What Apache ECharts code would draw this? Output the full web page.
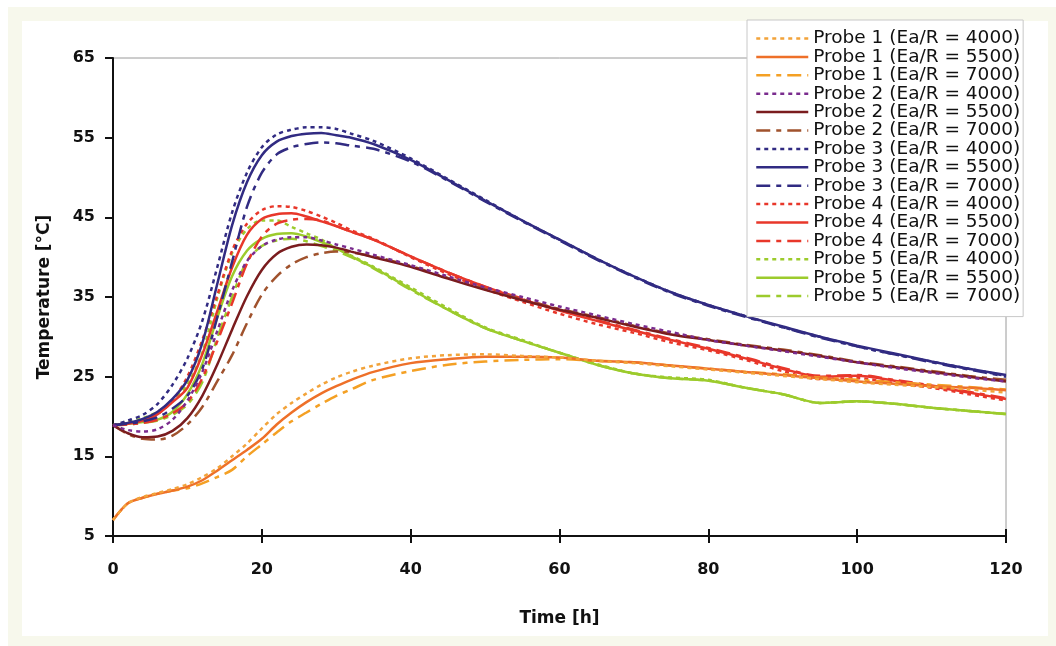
<!DOCTYPE html>
<html>
<head>
<meta charset="utf-8">
<script src="https://cdn.jsdelivr.net/npm/echarts@6/dist/echarts.min.js"></script>
<style>
html,body{margin:0;padding:0;background:#fff;}
#chart{width:1056px;height:646px;}
</style>
</head>
<body>
<div id="chart"></div>
<script>
// Time axis (hours)
var hours = [0,2,4,6,8,10,12,14,16,18,20,22,24,26,28,30,32,35,40,45,50,55,60,65,70,75,80,85,90,95,100,105,110,115,120];
var xTicks = [0,20,40,60,80,100,120];
var yTicks = [5,15,25,35,45,55,65];

// Probe 1
var p1_4000 = [7.0,9.1,9.9,10.4,10.9,11.5,12.4,13.5,15.0,16.6,18.5,20.3,21.7,22.9,24.0,24.9,25.6,26.4,27.3,27.7,27.8,27.6,27.4,27.0,26.7,26.3,25.9,25.5,25.1,24.7,24.3,24.0,23.7,23.4,23.0];
var p1_5500 = [7.0,9.1,9.8,10.3,10.7,11.2,12.0,13.2,14.5,15.8,17.2,19.0,20.5,21.8,22.9,23.8,24.6,25.6,26.7,27.2,27.5,27.5,27.4,27.0,26.8,26.4,26.0,25.6,25.2,24.8,24.4,24.1,23.8,23.6,23.3];
var p1_7000 = [7.0,9.1,9.8,10.3,10.7,11.0,11.6,12.4,13.3,15.0,16.5,18.0,19.4,20.5,21.6,22.6,23.4,24.6,25.7,26.5,26.9,27.1,27.2,27.0,26.8,26.4,26.0,25.6,25.3,24.9,24.6,24.3,24.0,23.7,23.4];
// Probe 2
var p2_4000 = [18.9,18.3,18.1,18.4,19.6,22.0,25.6,30.7,35.8,39.5,41.4,42.2,42.5,42.5,42.1,41.6,41.1,40.3,39.0,37.6,36.2,35.0,33.8,32.7,31.6,30.6,29.6,28.9,28.2,27.5,26.8,26.1,25.5,24.9,24.4];
var p2_5500 = [18.9,17.9,17.4,17.5,18.2,19.8,22.6,26.5,30.9,35.1,38.4,40.4,41.3,41.6,41.5,41.2,40.7,40.0,38.8,37.3,35.9,34.6,33.4,32.4,31.3,30.3,29.6,28.9,28.3,27.6,26.8,26.2,25.6,25.0,24.4];
var p2_7000 = [18.9,17.8,17.2,17.1,17.6,19.0,21.2,24.4,27.7,31.7,35.3,37.6,39.1,40.0,40.5,40.7,40.6,40.1,38.9,37.4,36.0,34.7,33.5,32.5,31.4,30.4,29.7,29.0,28.4,27.7,26.9,26.3,25.7,25.1,24.6];
// Probe 3
var p3_4000 = [18.9,19.5,20.2,21.6,24.0,27.3,32.0,38.7,45.6,50.6,53.8,55.4,56.0,56.3,56.3,56.1,55.5,54.6,52.4,49.8,47.2,44.6,42.2,39.8,37.6,35.6,34.0,32.6,31.2,30.0,28.8,27.8,26.9,26.0,25.1];
var p3_5500 = [18.9,19.2,19.7,20.6,22.2,24.6,29.2,36.6,44.0,49.4,52.8,54.5,55.2,55.5,55.6,55.3,55.0,54.2,52.2,49.7,47.1,44.6,42.2,39.8,37.6,35.6,34.0,32.6,31.3,30.0,28.9,27.9,26.9,26.0,25.2];
var p3_7000 = [18.9,19.1,19.4,19.9,21.0,22.6,26.0,32.4,39.4,46.3,50.6,52.9,53.8,54.2,54.4,54.3,54.0,53.6,52.0,49.6,47.0,44.5,42.1,39.7,37.5,35.5,33.9,32.5,31.2,29.9,28.8,27.8,26.8,25.9,25.0];
// Probe 4
var p4_4000 = [18.9,19.2,19.5,20.3,22.0,25.0,29.6,35.2,40.8,44.2,45.9,46.4,46.3,45.8,45.1,44.3,43.4,42.3,40.0,37.9,36.0,34.4,32.9,31.6,30.5,29.3,28.3,27.1,25.7,24.7,24.8,24.2,23.6,22.8,22.0];
var p4_5500 = [18.9,19.1,19.5,20.3,21.8,23.6,27.8,33.2,38.7,42.8,44.8,45.4,45.5,45.1,44.5,43.9,43.2,42.2,40.1,38.1,36.3,34.7,33.3,32.0,30.8,29.6,28.5,27.3,26.0,25.0,25.1,24.5,23.8,23.0,22.2];
var p4_7000 = [18.9,19.0,19.2,19.6,20.4,21.8,24.8,29.4,34.2,39.2,42.6,44.2,44.7,44.8,44.6,43.9,43.2,42.2,40.1,38.1,36.3,34.8,33.4,32.1,30.9,29.7,28.6,27.4,26.1,25.1,25.2,24.6,23.9,23.1,22.3];
// Probe 5
var p5_4000 = [18.9,19.3,19.8,20.6,22.0,24.0,28.0,34.8,40.5,43.5,44.6,44.6,43.8,43.0,42.2,41.1,40.2,38.8,36.2,33.6,31.2,29.6,28.0,26.6,25.4,24.9,24.6,23.6,22.8,21.7,21.9,21.6,21.1,20.7,20.3];
var p5_5500 = [18.9,19.1,19.3,19.6,20.6,22.8,26.6,32.4,37.6,40.8,42.3,42.9,43.0,42.6,41.9,41.1,40.1,38.7,36.0,33.4,31.1,29.5,28.0,26.5,25.4,24.8,24.5,23.6,22.8,21.7,21.9,21.6,21.1,20.7,20.3];
var p5_7000 = [18.9,19.0,19.2,19.5,20.2,21.5,24.3,29.8,35.0,39.5,41.4,42.1,42.3,42.0,41.4,40.8,40.0,38.6,35.9,33.4,31.1,29.5,28.0,26.5,25.4,24.8,24.5,23.6,22.8,21.7,21.9,21.6,21.1,20.7,20.3];

var seriesNames = [
  'Probe 1 (Ea/R = 4000)','Probe 1 (Ea/R = 5500)','Probe 1 (Ea/R = 7000)',
  'Probe 2 (Ea/R = 4000)','Probe 2 (Ea/R = 5500)','Probe 2 (Ea/R = 7000)',
  'Probe 3 (Ea/R = 4000)','Probe 3 (Ea/R = 5500)','Probe 3 (Ea/R = 7000)',
  'Probe 4 (Ea/R = 4000)','Probe 4 (Ea/R = 5500)','Probe 4 (Ea/R = 7000)',
  'Probe 5 (Ea/R = 4000)','Probe 5 (Ea/R = 5500)','Probe 5 (Ea/R = 7000)'
];
var seriesData = [p1_4000,p1_5500,p1_7000,p2_4000,p2_5500,p2_7000,p3_4000,p3_5500,p3_7000,p4_4000,p4_5500,p4_7000,p5_4000,p5_5500,p5_7000];
var seriesColors = ['#F2A33A','#EE7029','#F4A024','#7A2C8E','#7A1C1E','#A0522D','#312B82','#312B82','#312B82','#E8372A','#E8372A','#E8372A','#9CCB2C','#9CCB2C','#9CCB2C'];
var dashDot = [4,4];
var dashLong = [14,6,5,6];
var seriesDash = [dashDot,'solid',dashLong,dashDot,'solid',dashLong,dashDot,'solid',dashLong,dashDot,'solid',dashLong,dashDot,'solid',dashLong];

var series = seriesNames.map(function(name, i){
  return {
    name: name,
    type: 'line',
    xAxisIndex: 0,
    symbol: 'none',
    showSymbol: false,
    smooth: 0.3,
    z: 2 + (14 - i) * 0.01,
    data: hours.map(function(h, k){ return [h, seriesData[i][k]]; }),
    lineStyle: { color: seriesColors[i], width: 2.5, type: seriesDash[i] },
    itemStyle: { color: seriesColors[i] }
  };
});

var chart = echarts.init(document.getElementById('chart'), null, {renderer: 'canvas'});
var axisFont = 'DejaVu Sans';
chart.setOption({
  backgroundColor: '#ffffff',
  animation: false,
  graphic: [
    { type: 'rect', z: -20, silent: true, shape: { x: 8, y: 7, width: 1048, height: 639 }, style: { fill: '#F7F8EC' } },
    { type: 'rect', z: -19, silent: true, shape: { x: 22, y: 21, width: 1026, height: 615 }, style: { fill: '#ffffff' } }
  ],
  grid: { left: 113, right: 50, top: 58, bottom: 110, show: true, borderColor: '#9a9a9a', borderWidth: 1, backgroundColor: 'transparent' },
  legend: {
    orient: 'vertical',
    left: 747, top: 20,
    padding: [9, 3, 11, 8],
    backgroundColor: '#ffffff',
    borderColor: '#c8c8c8',
    borderWidth: 1,
    itemWidth: 52, itemHeight: 12,
    itemGap: -0.6,
    itemStyle: { opacity: 0 },
    lineStyle: { width: 2.5 },
    data: seriesNames,
    textStyle: { fontFamily: axisFont, fontSize: 18.5, color: '#111', lineHeight: 18 }
  },
  xAxis: [{
    type: 'value', min: 0, max: 120, interval: 20,
    name: 'Time [h]', nameLocation: 'middle', nameGap: 74,
    nameTextStyle: { fontFamily: axisFont, fontWeight: 'bold', fontSize: 17, color: '#111' },
    axisLine: { show: true, lineStyle: { color: '#111', width: 2 } },
    axisTick: { show: true, length: 7, inside: false, lineStyle: { color: '#111', width: 2 }, customValues: xTicks },
    axisLabel: { margin: 26, fontFamily: axisFont, fontWeight: 'bold', fontSize: 16, color: '#111', customValues: xTicks },
    splitLine: { show: false }
  }, {
    type: 'value', min: 0, max: 120, interval: 20, position: 'bottom',
    axisLine: { show: false },
    axisTick: { show: true, length: 7, inside: true, lineStyle: { color: '#111', width: 2 }, customValues: xTicks },
    axisLabel: { show: false },
    splitLine: { show: false }
  }],
  yAxis: {
    type: 'value', min: 5, max: 65, interval: 10,
    name: 'Temperature [°C]', nameLocation: 'middle', nameGap: 60,
    nameTextStyle: { fontFamily: axisFont, fontWeight: 'bold', fontSize: 17, color: '#111' },
    axisLine: { show: true, lineStyle: { color: '#111', width: 2 } },
    axisTick: { show: true, length: 8, inside: false, lineStyle: { color: '#111', width: 2 }, customValues: yTicks },
    axisLabel: { margin: 18, fontFamily: axisFont, fontWeight: 'bold', fontSize: 16, color: '#111', customValues: yTicks },
    splitLine: { show: false }
  },
  series: series
});
</script>
</body>
</html>
